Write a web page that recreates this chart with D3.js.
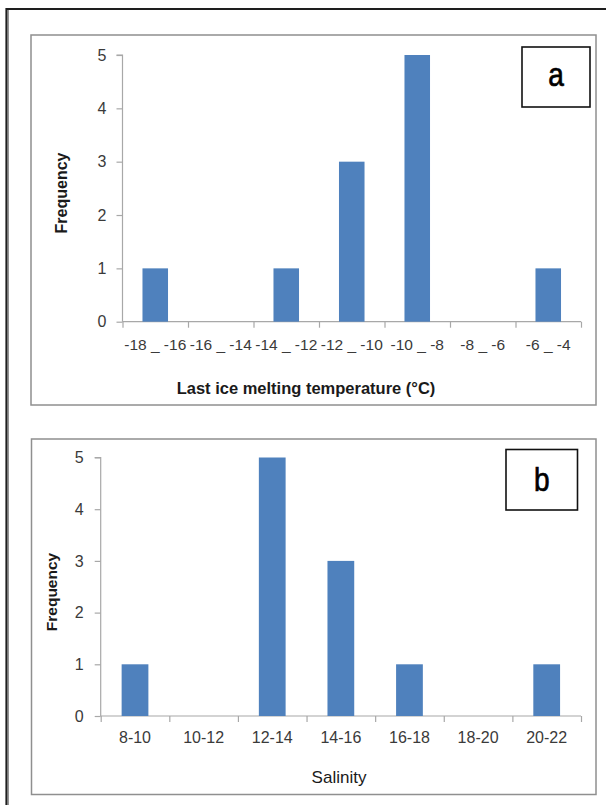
<!DOCTYPE html>
<head>
  <meta charset="utf-8">
  <style>
    html, body { margin: 0; padding: 0; background: #fff; }
    svg { display: block; font-family: 'Liberation Sans', Arial, sans-serif; }
  </style>
  <script src="https://cdn.jsdelivr.net/npm/d3@7"></script>
</head>
<body>
<div id=chart></div>
<script>
// data
const tempBins = ['-18 _ -16', '-16 _ -14', '-14 _ -12', '-12 _ -10', '-10 _ -8', '-8 _ -6', '-6 _ -4']
const tempFreq = [1, 0, 1, 3, 5, 0, 1]
const salinityBins = ['8-10', '10-12', '12-14', '14-16', '16-18', '18-20', '20-22']
const salinityFreq = [1, 0, 5, 3, 1, 0, 1]
const freqTicks = [0, 1, 2, 3, 4, 5]

const W = 606, H = 805
const barColor = '#4f81bd'
const axisColor = '#a8a8a8'
const tickText = '#3a3a3a'

const svg = d3.select('#chart').append('svg')
  .attr('width', W).attr('height', H)
  .attr('viewBox', [0, 0, W, H])

// outer frame (only top and left visible in the picture)
svg.append('path')
  .attr('d', 'M6.5,812 V9 H612')
  .attr('fill', 'none').attr('stroke', '#1e1e1e').attr('stroke-width', 2.2)
svg.append('line')
  .attr('x1', 8.5).attr('x2', 8.5).attr('y1', 10).attr('y2', 812)
  .attr('stroke', '#777').attr('stroke-width', 0.8)

function drawPanel(p) {
  const g = svg.append('g')

  // chart area border
  g.append('rect')
    .attr('x', p.box[0]).attr('y', p.box[1]).attr('width', p.box[2]).attr('height', p.box[3])
    .attr('fill', '#fff').attr('stroke', '#8f8f8f').attr('stroke-width', 1.5)

  const x = d3.scaleBand().domain(p.bins).range([p.x0, p.x1]).padding(0)
  const xEdge = d3.scaleLinear().domain([0, p.bins.length]).range([p.x0, p.x1])
  const y = d3.scaleLinear().domain([0, 5]).range([p.yBottom, p.yTop])

  // y axis
  const yAxis = g.append('g')
    .attr('transform', `translate(${p.x0},0)`)
    .call(d3.axisLeft(y).tickValues(freqTicks).tickSize(6).tickFormat(d3.format('d')))
  yAxis.select('.domain').attr('stroke', axisColor).attr('stroke-width', 1.2)
    .attr('d', `M-6,${y(5)}H0V${y(0)}`)
  yAxis.selectAll('.tick line').attr('stroke', axisColor).attr('stroke-width', 1.2)
  yAxis.selectAll('.tick text')
    .attr('x', -p.yLabelGap).attr('fill', tickText)
    .style('font-size', '16px').style('font-family', "'Liberation Sans', Arial, sans-serif")

  // x axis: ticks on the bin edges, labels centred under bins
  const xAxis = g.append('g')
    .attr('transform', `translate(0,${p.yBottom})`)
    .call(d3.axisBottom(xEdge).tickValues(d3.range(p.bins.length + 1)).tickSize(6).tickFormat(''))
  xAxis.select('.domain').attr('stroke', axisColor).attr('stroke-width', 1.2)
    .attr('d', `M${p.x0},0H${p.x1}`)
  xAxis.selectAll('.tick line').attr('stroke', axisColor).attr('stroke-width', 1.2)

  g.append('g').selectAll('text').data(p.bins).join('text')
    .attr('x', d => x(d) + x.bandwidth() / 2)
    .attr('y', p.yBottom + p.xLabelDy)
    .attr('text-anchor', 'middle')
    .attr('fill', tickText)
    .style('font-size', p.xLabelSize + 'px')
    .text(d => d)

  // bars
  const barW = x.bandwidth() * 0.39
  g.append('g').selectAll('rect').data(p.values).join('rect')
    .attr('x', (d, i) => x(p.bins[i]) + (x.bandwidth() - barW) / 2)
    .attr('width', barW)
    .attr('y', d => y(d))
    .attr('height', d => y(0) - y(d))
    .attr('fill', barColor)

  // axis titles
  g.append('text')
    .attr('transform', `translate(${p.yTitle[0]},${p.yTitle[1]}) rotate(-90)`)
    .attr('text-anchor', 'middle')
    .attr('fill', '#1a1a1a')
    .style('font-weight', 'bold').style('font-size', p.yTitleSize + 'px')
    .text('Frequency')
  g.append('text')
    .attr('x', p.xTitle[0]).attr('y', p.xTitle[1])
    .attr('text-anchor', 'middle')
    .attr('fill', '#1a1a1a')
    .style('font-weight', p.xTitleWeight).style('font-size', p.xTitleSize + 'px')
    .text(p.xTitleText)

  // panel letter in its box
  g.append('rect')
    .attr('x', p.tag[0]).attr('y', p.tag[1]).attr('width', p.tag[2]).attr('height', p.tag[3])
    .attr('fill', '#fff').attr('stroke', '#111').attr('stroke-width', 1.6)
  g.append('text')
    .attr('transform', `translate(${p.tag[0] + p.tag[2] / 2},${p.tagBaseline}) scale(0.85,1)`)
    .attr('text-anchor', 'middle')
    .attr('fill', '#000')
    .attr('stroke', '#000').attr('stroke-width', 0.7)
    .style('font-size', '33px')
    .text(p.tagText)
}

drawPanel({
  box: [31, 35, 565, 370],
  bins: tempBins, values: tempFreq,
  x0: 122.5, x1: 581, yTop: 55, yBottom: 321.7,
  yLabelGap: 16, xLabelDy: 28.5, xLabelSize: 15.5,
  yTitle: [66.5, 193], yTitleSize: 16,
  xTitle: [306, 394], xTitleSize: 16.5, xTitleWeight: 'bold',
  xTitleText: 'Last ice melting temperature (°C)',
  tag: [522, 47, 68, 60], tagBaseline: 86, tagText: 'a'
})

drawPanel({
  box: [31.5, 439, 564.5, 355.5],
  bins: salinityBins, values: salinityFreq,
  x0: 100.7, x1: 581, yTop: 457.5, yBottom: 716,
  yLabelGap: 17, xLabelDy: 27, xLabelSize: 16,
  yTitle: [57, 592], yTitleSize: 15.5,
  xTitle: [339, 783], xTitleSize: 17, xTitleWeight: 'normal',
  xTitleText: 'Salinity',
  tag: [506, 449.5, 71.5, 60.5], tagBaseline: 491, tagText: 'b'
})
</script>
</body>
